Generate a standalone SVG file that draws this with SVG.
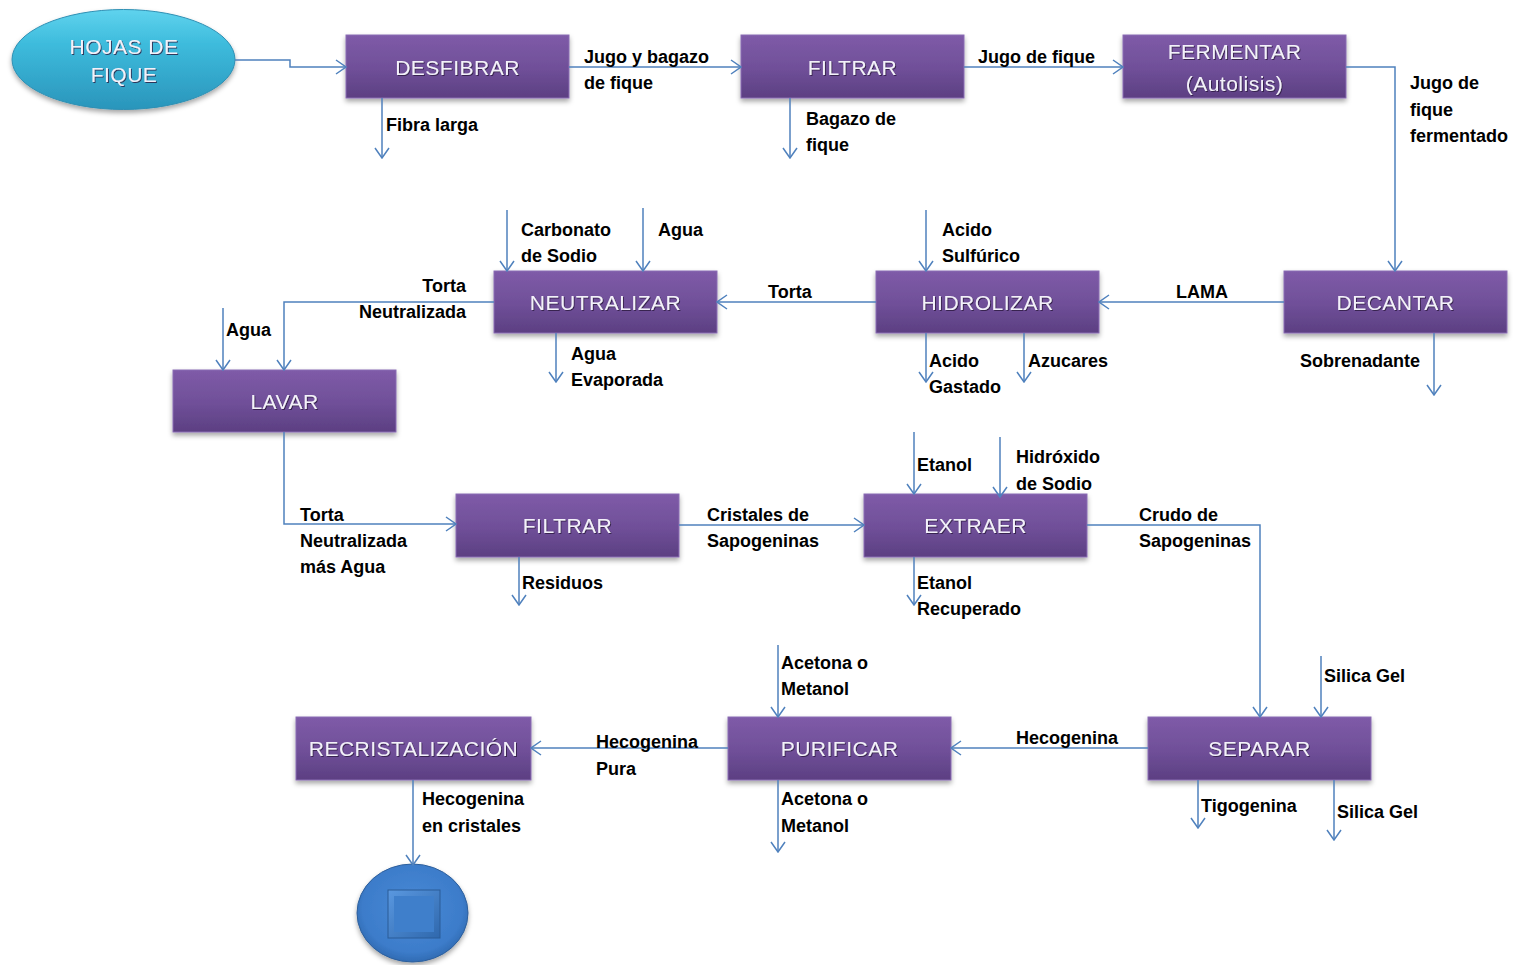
<svg xmlns="http://www.w3.org/2000/svg" width="1521" height="965" viewBox="0 0 1521 965">
  <defs>
    <linearGradient id="boxFill" x1="0" y1="0" x2="0" y2="1">
      <stop offset="0" stop-color="#7f5ba8"/>
      <stop offset="0.55" stop-color="#6f4f98"/>
      <stop offset="1" stop-color="#5c3f82"/>
    </linearGradient>
    <linearGradient id="ovalFill" x1="0" y1="0" x2="0" y2="1">
      <stop offset="0" stop-color="#5fd3ee"/>
      <stop offset="0.35" stop-color="#3dbbdc"/>
      <stop offset="1" stop-color="#2a95bb"/>
    </linearGradient>
    <radialGradient id="endFill" cx="0.5" cy="0.45" r="0.6">
      <stop offset="0" stop-color="#4a8ad6"/>
      <stop offset="0.75" stop-color="#3c7cca"/>
      <stop offset="1" stop-color="#2b63a8"/>
    </radialGradient>
    <linearGradient id="endSquare" x1="0" y1="0" x2="1" y2="1">
      <stop offset="0" stop-color="#5a98e0"/>
      <stop offset="1" stop-color="#2f68ad"/>
    </linearGradient>
    <filter id="shadow" x="-10%" y="-20%" width="120%" height="150%">
      <feDropShadow dx="0" dy="3" stdDeviation="2.5" flood-color="#000" flood-opacity="0.35"/>
    </filter>
    <filter id="txtShadow" x="-10%" y="-30%" width="120%" height="160%">
      <feDropShadow dx="1" dy="1" stdDeviation="0.6" flood-color="#2a1a40" flood-opacity="0.8"/>
    </filter>
    <marker id="arrow" viewBox="0 0 12 16" refX="11" refY="8" markerWidth="12" markerHeight="16" markerUnits="userSpaceOnUse" orient="auto">
      <path d="M1,1 L11,8 L1,15" fill="none" stroke="#4f81bd" stroke-width="1.5"/>
    </marker>
  </defs>
  <style>
    .box { fill: url(#boxFill); stroke: #8a6cb3; stroke-width: 1; filter: url(#shadow); }
    .boxText { font-family: "Liberation Sans", Arial, sans-serif; font-size: 21px; fill: #f3f1fa; text-anchor: middle; letter-spacing: 0.5px; filter: url(#txtShadow); }
    .lbl { font-family: "Liberation Sans", Arial, sans-serif; font-size: 18px; font-weight: bold; fill: #000; }
    .end { text-anchor: end; }
    .flow { fill: none; stroke: #4f81bd; stroke-width: 1.5; marker-end: url(#arrow); }
  </style>

  <!-- process steps -->
  <g id="hojas-de-fique">
    <ellipse cx="123.5" cy="59.5" rx="111.5" ry="50" fill="url(#ovalFill)" stroke="#2e8fb3" stroke-width="1" filter="url(#shadow)"/>
    <text class="boxText" x="124" y="54" font-size="20">HOJAS DE</text>
    <text class="boxText" x="124" y="82" font-size="20">FIQUE</text>
  </g>
  <g id="desfibrar">
    <rect class="box" x="346" y="35" width="223" height="63"/>
    <text class="boxText" x="457.5" y="75">DESFIBRAR</text>
  </g>
  <g id="filtrar-1">
    <rect class="box" x="741" y="35" width="223" height="63"/>
    <text class="boxText" x="852.5" y="75">FILTRAR</text>
  </g>
  <g id="fermentar">
    <rect class="box" x="1123" y="35" width="223" height="63"/>
    <text class="boxText" x="1234.5" y="59">FERMENTAR</text>
    <text class="boxText" x="1234.5" y="91">(Autolisis)</text>
  </g>
  <g id="decantar">
    <rect class="box" x="1284" y="271" width="223" height="62"/>
    <text class="boxText" x="1395.5" y="310">DECANTAR</text>
  </g>
  <g id="hidrolizar">
    <rect class="box" x="876" y="271" width="223" height="62"/>
    <text class="boxText" x="987.5" y="310">HIDROLIZAR</text>
  </g>
  <g id="neutralizar">
    <rect class="box" x="494" y="271" width="223" height="62"/>
    <text class="boxText" x="605.5" y="310">NEUTRALIZAR</text>
  </g>
  <g id="lavar">
    <rect class="box" x="173" y="370" width="223" height="62"/>
    <text class="boxText" x="284.5" y="409">LAVAR</text>
  </g>
  <g id="filtrar-2">
    <rect class="box" x="456" y="494" width="223" height="63"/>
    <text class="boxText" x="567.5" y="533">FILTRAR</text>
  </g>
  <g id="extraer">
    <rect class="box" x="864" y="494" width="223" height="63"/>
    <text class="boxText" x="975.5" y="533">EXTRAER</text>
  </g>
  <g id="separar">
    <rect class="box" x="1148" y="717" width="223" height="63"/>
    <text class="boxText" x="1259.5" y="756">SEPARAR</text>
  </g>
  <g id="purificar">
    <rect class="box" x="728" y="717" width="223" height="63"/>
    <text class="boxText" x="839.5" y="756">PURIFICAR</text>
  </g>
  <g id="recristalizacion">
    <rect class="box" x="296" y="717" width="235" height="63"/>
    <text class="boxText" x="413.5" y="756">RECRISTALIZACIÓN</text>
  </g>
  <g id="fin">
    <ellipse cx="412.5" cy="913" rx="55.5" ry="49" fill="url(#endFill)" stroke="#2d5f9c" stroke-width="1" filter="url(#shadow)"/>
    <rect x="388" y="890" width="52" height="48" fill="url(#endSquare)" stroke="#2a5c98" stroke-width="1"/>
    <rect x="394" y="896" width="40" height="36" fill="#3f7fcb"/>
  </g>

  <!-- connectors -->
  <g id="connectors">
    <path class="flow" d="M235,60 H290 V67 H346"/>
    <path class="flow" d="M569,67 H741"/>
    <path class="flow" d="M382,98 V158"/>
    <path class="flow" d="M964,67 H1123"/>
    <path class="flow" d="M790,98 V158"/>
    <path class="flow" d="M1346,67 H1395 V271"/>
    <path class="flow" d="M1284,302 H1099"/>
    <path class="flow" d="M1434,333 V395"/>
    <path class="flow" d="M926,210 V271"/>
    <path class="flow" d="M926,333 V382"/>
    <path class="flow" d="M1024,333 V382"/>
    <path class="flow" d="M876,302 H717"/>
    <path class="flow" d="M507,210 V271"/>
    <path class="flow" d="M643,208 V271"/>
    <path class="flow" d="M556,333 V382"/>
    <path class="flow" d="M494,302 H284 V370"/>
    <path class="flow" d="M223,308 V370"/>
    <path class="flow" d="M284,432 V524 H456"/>
    <path class="flow" d="M679,525 H864"/>
    <path class="flow" d="M519,557 V605"/>
    <path class="flow" d="M914,432 V494"/>
    <path class="flow" d="M1000,437 V497"/>
    <path class="flow" d="M914,557 V605"/>
    <path class="flow" d="M1087,525 H1260 V717"/>
    <path class="flow" d="M1321,656 V717"/>
    <path class="flow" d="M1148,748 H951"/>
    <path class="flow" d="M1198,780 V828"/>
    <path class="flow" d="M1334,780 V840"/>
    <path class="flow" d="M778,645 V717"/>
    <path class="flow" d="M728,748 H531"/>
    <path class="flow" d="M778,780 V852"/>
    <path class="flow" d="M413,780 V865"/>
  </g>

  <!-- stream labels -->
  <g id="labels">
    <text class="lbl" x="584" y="63">Jugo y bagazo</text>
    <text class="lbl" x="584" y="89">de fique</text>
    <text class="lbl" x="386" y="131">Fibra larga</text>
    <text class="lbl" x="978" y="63">Jugo de fique</text>
    <text class="lbl" x="806" y="125">Bagazo de</text>
    <text class="lbl" x="806" y="151">fique</text>
    <text class="lbl" x="1410" y="89">Jugo de</text>
    <text class="lbl" x="1410" y="116">fique</text>
    <text class="lbl" x="1410" y="142">fermentado</text>
    <text class="lbl" x="1176" y="298">LAMA</text>
    <text class="lbl" x="1300" y="367">Sobrenadante</text>
    <text class="lbl" x="942" y="236">Acido</text>
    <text class="lbl" x="942" y="262">Sulfúrico</text>
    <text class="lbl" x="929" y="367">Acido</text>
    <text class="lbl" x="929" y="393">Gastado</text>
    <text class="lbl" x="1028" y="367">Azucares</text>
    <text class="lbl" x="768" y="298">Torta</text>
    <text class="lbl" x="521" y="236">Carbonato</text>
    <text class="lbl" x="521" y="262">de Sodio</text>
    <text class="lbl" x="658" y="236">Agua</text>
    <text class="lbl" x="571" y="360">Agua</text>
    <text class="lbl" x="571" y="386">Evaporada</text>
    <text class="lbl end" x="466" y="292">Torta</text>
    <text class="lbl end" x="466" y="318">Neutralizada</text>
    <text class="lbl" x="226" y="336">Agua</text>
    <text class="lbl" x="300" y="521">Torta</text>
    <text class="lbl" x="300" y="547">Neutralizada</text>
    <text class="lbl" x="300" y="573">más Agua</text>
    <text class="lbl" x="707" y="521">Cristales de</text>
    <text class="lbl" x="707" y="547">Sapogeninas</text>
    <text class="lbl" x="522" y="589">Residuos</text>
    <text class="lbl" x="917" y="471">Etanol</text>
    <text class="lbl" x="1016" y="463">Hidróxido</text>
    <text class="lbl" x="1016" y="490">de Sodio</text>
    <text class="lbl" x="917" y="589">Etanol</text>
    <text class="lbl" x="917" y="615">Recuperado</text>
    <text class="lbl" x="1139" y="521">Crudo de</text>
    <text class="lbl" x="1139" y="547">Sapogeninas</text>
    <text class="lbl" x="1324" y="682">Silica Gel</text>
    <text class="lbl" x="1016" y="744">Hecogenina</text>
    <text class="lbl" x="1201" y="812">Tigogenina</text>
    <text class="lbl" x="1337" y="818">Silica Gel</text>
    <text class="lbl" x="781" y="669">Acetona o</text>
    <text class="lbl" x="781" y="695">Metanol</text>
    <text class="lbl" x="596" y="748">Hecogenina</text>
    <text class="lbl" x="596" y="775">Pura</text>
    <text class="lbl" x="781" y="805">Acetona o</text>
    <text class="lbl" x="781" y="832">Metanol</text>
    <text class="lbl" x="422" y="805">Hecogenina</text>
    <text class="lbl" x="422" y="832">en cristales</text>
  </g>
</svg>
